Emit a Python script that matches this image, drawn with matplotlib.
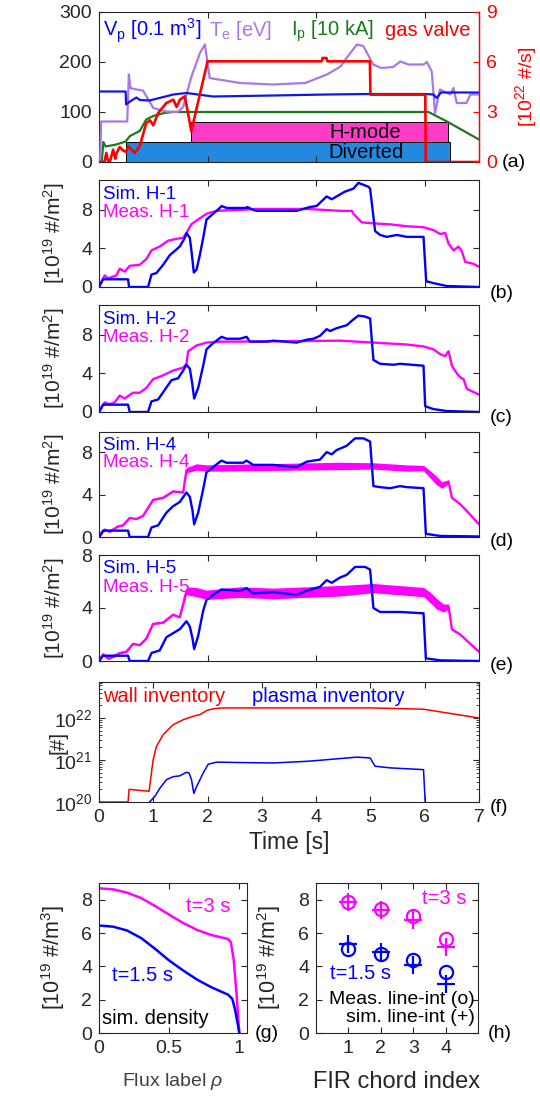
import numpy as np
import matplotlib
matplotlib.use('Agg')
import matplotlib.pyplot as plt

plt.rcParams['font.family'] = ['Liberation Sans', 'DejaVu Sans']
plt.rcParams['mathtext.fontset'] = 'custom'
plt.rcParams['mathtext.rm'] = 'Liberation Sans'
plt.rcParams['mathtext.it'] = 'Liberation Sans:italic'
plt.rcParams['mathtext.bf'] = 'Liberation Sans:bold'
plt.rcParams['mathtext.default'] = 'regular'

# ---------------- data: panel (a) ----------------
vp_t = [0, 0.49, 0.50, 0.57, 0.69, 0.75, 0.93, 1.37, 1.61, 2.1, 3.2, 4.2, 5.0, 6.0, 6.16, 6.22, 6.30, 7.0]
vp_v = [141, 141, 115, 121, 129, 124, 123, 135, 138, 131, 133, 135, 136, 136, 135, 128, 139, 139]

te_t = [0, 0.02, 0.04, 0.52, 0.55, 0.58, 0.69, 0.81, 1.0, 1.24, 1.45, 1.55, 1.70, 1.86, 1.95, 2.04, 2.2, 2.6,
        3.2, 3.8, 4.2, 4.45, 4.56, 4.75, 4.87, 5.05, 5.2, 5.42, 5.55, 5.7, 5.98, 6.04, 6.13, 6.19, 6.28, 6.47,
        6.53, 6.59, 6.77, 6.84, 7.0]
te_v = [0, 0, 81, 81, 175, 148, 145, 143, 108, 101, 100, 110, 170, 218, 235, 168, 165, 158,
        155, 158, 175, 191, 208, 235, 232, 195, 188, 190, 201, 195, 195, 200, 181, 98, 145, 135,
        148, 118, 118, 135, 135]

ip_t = [0, 0.05, 0.08, 0.12, 0.32, 0.49, 0.57, 0.75, 0.87, 1.0, 1.2, 1.37, 6.07, 6.41, 7.0]
ip_v = [0, 0, 40, 31, 35, 41, 52, 62, 85, 92, 98, 100, 100, 81, 45]

gas_t = [0, 0.10, 0.135, 0.17, 0.20, 0.26, 0.30, 0.32, 0.38, 0.44, 0.50, 0.54, 0.66, 0.75, 0.87, 0.94,
         1.0, 1.09, 1.24, 1.37, 1.43, 1.49, 1.58, 1.64, 1.70, 2.0, 4.10, 4.12, 4.19, 4.21, 4.99, 5.0,
         6.01, 6.02, 7.0]
gas_v = [0, 0, 0.54, 0.0, 0.0, 0.74, 0.2, 0.5, 0.9, 0.7, 0.6, 0.94, 0.54, 0.94, 2.34, 2.5,
         2.2, 2.94, 3.54, 3.74, 3.3, 3.74, 3.94, 2.94, 1.84, 6.04, 6.04, 6.24, 6.24, 6.04, 6.04, 4.04,
         4.04, 0, 0]

diverted_span = [0.49, 6.46]
diverted_level = [0, 40]
hmode_span = [1.70, 6.42]
hmode_level = [40, 80]

# ---------------- data: panels (b)-(e) ----------------
sim_b_t = [0, 0.074, 0.535, 0.554, 0.904, 0.966, 1.058, 1.181, 1.304, 1.427, 1.488, 1.581, 1.611, 1.673,
           1.704, 1.747, 1.796, 1.857, 1.919, 1.980, 2.042, 2.226, 2.257, 2.349, 2.718, 2.731, 2.841,
           2.903, 3.641, 3.825, 3.887, 4.010, 4.194, 4.287, 4.440, 4.533, 4.686, 4.779, 4.871, 4.963,
           4.994, 5.086, 5.178, 5.301, 5.486, 5.670, 5.978, 6.027, 6.162, 6.408, 7.0]
sim_b_v = [0, 0.8, 0.8, 0, 0, 1.28, 1.45, 2.3, 3.3, 3.9, 4.2, 5.1, 5.6, 5.1,
           3.7, 1.5, 1.8, 3.3, 5.1, 7.0, 7.3, 8.2, 8.4, 8.2, 8.2, 8.3, 8.0,
           7.9, 7.9, 8.2, 8.3, 8.4, 9.4, 9.1, 9.6, 9.9, 10.2, 10.8, 10.6, 10.4,
           10.2, 5.8, 5.4, 5.2, 5.4, 5.2, 5.2, 0.6, 0.4, 0.1, 0.0]
meas_b_t = [0, 0.105, 0.166, 0.32, 0.381, 0.474, 0.566, 0.75, 0.873, 0.966, 1.119, 1.273, 1.427, 1.55,
            1.611, 1.70, 1.827, 1.98, 2.165, 2.595, 2.9, 3.825, 4.44, 4.656, 4.686, 4.84, 5.055, 5.363,
            5.67, 5.978, 6.162, 6.285, 6.378, 6.439, 6.531, 6.624, 6.685, 6.747, 6.9, 7.0]
meas_b_v = [0, 1.2, 0.9, 1.2, 1.9, 1.6, 2.2, 2.3, 2.9, 3.8, 4.2, 4.8, 5.0, 5.1,
            5.6, 6.5, 7.0, 7.6, 7.9, 8.0, 8.1, 8.1, 7.9, 7.9, 7.6, 6.7, 6.6, 6.5,
            6.3, 6.2, 5.9, 5.5, 5.6, 4.5, 3.8, 4.2, 3.7, 2.6, 2.4, 2.1]

sim_c_t = [0, 0.074, 0.535, 0.566, 0.904, 0.966, 1.089, 1.212, 1.335, 1.458, 1.55, 1.611, 1.673, 1.716,
           1.753, 1.827, 1.919, 1.98, 2.073, 2.257, 2.349, 2.595, 2.718, 2.78, 3.087, 3.21, 3.641, 3.825,
           3.948, 4.071, 4.194, 4.256, 4.379, 4.563, 4.686, 4.779, 4.902, 4.994, 5.055, 5.178, 5.424,
           5.547, 5.978, 6.009, 6.162, 6.408, 7.0]
sim_c_v = [0, 0.76, 0.76, 0, 0, 1.1, 1.3, 2.3, 3.3, 3.5, 4.3, 4.9, 4.5, 3.0,
           1.4, 2.5, 4.8, 6.5, 7.0, 7.8, 7.6, 7.6, 7.8, 7.3, 7.3, 7.4, 7.2, 7.5,
           7.6, 7.9, 8.6, 8.4, 8.7, 9.0, 9.6, 10.0, 9.9, 9.7, 5.4, 5.0, 4.9,
           5.0, 4.8, 0.6, 0.3, 0.1, 0]
meas_c_t = [0, 0.105, 0.197, 0.289, 0.381, 0.474, 0.627, 0.75, 0.873, 0.996, 1.181, 1.365, 1.55, 1.611,
            1.642, 1.796, 1.98, 2.226, 2.595, 4.44, 5.055, 5.67, 5.978, 6.162, 6.285, 6.378, 6.439,
            6.501, 6.593, 6.654, 6.716, 6.777, 7.0]
meas_c_v = [0, 1.0, 0.8, 1.0, 1.7, 1.4, 2.0, 2.0, 2.5, 3.4, 3.8, 4.3, 4.6, 5.0,
            6.3, 6.9, 7.2, 7.3, 7.3, 7.4, 7.2, 7.0, 6.8, 6.5, 6.0, 5.8, 6.3,
            4.8, 4.0, 3.6, 3.4, 2.4, 1.8]

sim_d_t = [0, 0.074, 0.535, 0.566, 0.904, 0.966, 1.089, 1.242, 1.365, 1.488, 1.611, 1.673, 1.722, 1.753,
           1.827, 1.919, 1.98, 2.103, 2.257, 2.349, 2.657, 2.718, 2.841, 3.21, 3.641, 3.825, 4.071, 4.194,
           4.287, 4.379, 4.563, 4.717, 4.871, 4.994, 5.055, 5.178, 5.363, 5.547, 5.67, 5.978, 6.021,
           6.285, 7.0]
sim_d_v = [0, 0.6, 0.6, 0, 0, 0.9, 1.1, 2.3, 2.9, 3.3, 4.2, 3.8, 2.5, 1.2,
           2.3, 4.5, 6.1, 6.6, 7.2, 7.0, 7.0, 7.2, 6.8, 6.8, 6.6, 7.1, 7.3, 8.0,
           7.8, 8.2, 8.6, 9.3, 9.3, 9.0, 4.8, 4.7, 4.6, 4.8, 4.7, 4.6, 0.3,
           0.1, 0.05]
meas_d_t = [0, 0.105, 0.197, 0.351, 0.443, 0.566, 0.689, 0.812, 0.996, 1.181, 1.365, 1.55, 1.611, 1.796,
            1.98, 4.44, 5.055, 5.67, 5.978, 6.101, 6.224, 6.316, 6.439, 6.501, 6.654, 6.839, 7.0]
meas_d_v = [0, 0.7, 0.5, 1.0, 1.1, 1.8, 1.7, 2.0, 3.5, 3.7, 4.3, 4.2, 6.3, 6.6,
            6.5, 6.7, 6.7, 6.5, 6.5, 5.9, 5.3, 4.9, 5.2, 3.7, 3.1, 2.1, 1.2]
meas_d_spread = [0, 0.05, 0.05, 0.05, 0.05, 0.05, 0.05, 0.05, 0.05, 0.05, 0.05, 0.05, 0.25, 0.3,
                 0.3, 0.35, 0.3, 0.3, 0.25, 0.35, 0.4, 0.3, 0.2, 0.1, 0.05, 0.05, 0.05]

sim_e_t = [0, 0.074, 0.535, 0.566, 0.904, 0.966, 1.119, 1.242, 1.365, 1.488, 1.611, 1.673, 1.722, 1.753,
           1.827, 1.919, 1.98, 2.103, 2.257, 2.595, 2.718, 2.841, 3.21, 3.641, 3.825, 4.071, 4.194, 4.287,
           4.44, 4.563, 4.717, 4.902, 4.994, 5.055, 5.178, 5.547, 5.978, 6.021, 6.285, 7.0]
sim_e_v = [0, 0.4, 0.4, 0, 0, 0.6, 0.8, 1.8, 2.1, 2.4, 3.0, 2.6, 1.7, 0.9,
           1.9, 3.8, 4.6, 5.0, 5.4, 5.3, 5.5, 5.1, 5.2, 5.0, 5.3, 5.6, 6.1, 5.9,
           6.3, 6.5, 7.1, 7.1, 6.9, 4.0, 3.7, 3.7, 3.6, 0.2, 0.05, 0]
meas_e_t = [0, 0.074, 0.166, 0.289, 0.381, 0.504, 0.627, 0.75, 0.873, 0.996, 1.181, 1.365, 1.488, 1.611,
            1.796, 1.98, 2.595, 3.21, 3.825, 4.44, 5.055, 5.67, 5.978, 6.101, 6.224, 6.347, 6.439, 6.501,
            6.654, 6.839, 7.0]
meas_e_v = [0, 0.5, 0.2, 0.4, 0.6, 0.7, 1.3, 1.2, 1.7, 2.8, 2.9, 3.5, 3.3, 5.3,
            5.2, 5.0, 5.2, 5.1, 5.2, 5.3, 5.5, 5.3, 5.2, 4.8, 4.3, 4.0, 4.1, 2.4,
            2.0, 1.3, 0.7]
meas_e_spread = [0, 0.1, 0.1, 0.1, 0.05, 0.05, 0.05, 0.05, 0.05, 0.05, 0.05, 0.05, 0.05, 0.3,
                 0.35, 0.35, 0.4, 0.4, 0.4, 0.4, 0.35, 0.35, 0.35, 0.4, 0.4, 0.3, 0.2, 0.1,
                 0.05, 0.05, 0.05]

chord_names = ['H-1', 'H-2', 'H-4', 'H-5']

# ---------------- data: panel (f) ----------------
wall_t = [0, 0.535, 0.554, 0.923, 0.996, 1.058, 1.181, 1.365, 1.55, 1.735, 1.857, 1.98, 2.103, 2.288,
          4.994, 5.978, 7.0]
wall_v = [1.0e20, 1.0e20, 2.0e20, 1.8e20, 1.0e21, 2.1e21, 4.0e21, 6.9e21, 9.1e21, 1.1e22, 1.2e22,
          1.5e22, 1.66e22, 1.74e22, 1.74e22, 1.62e22, 1.0e22]
plasma_t = [0.93, 1.027, 1.119, 1.242, 1.365, 1.488, 1.611, 1.661, 1.704, 1.747, 1.796, 1.919, 2.011,
            2.165, 2.595, 3.21, 3.825, 4.133, 4.748, 4.994, 5.086, 5.363, 5.978, 6.009, 6.05]
plasma_v = [1.0e20, 1.35e20, 2.1e20, 3.4e20, 4.0e20, 4.2e20, 5.1e20, 4.9e20, 3.4e20, 1.6e20, 2.3e20,
            4.9e20, 7.9e20, 8.9e20, 8.7e20, 8.5e20, 9.3e20, 1.0e21, 1.17e21, 1.12e21, 7.1e20, 6.5e20,
            5.9e20, 1.0e20, 1.0e19]

# ---------------- data: panel (g) ----------------
rho_3 = [0, 0.1, 0.2, 0.3, 0.4, 0.5, 0.6, 0.7, 0.8, 0.88, 0.92, 0.94, 0.96, 0.98, 1.0]
dens_3 = [8.68, 8.62, 8.42, 8.1, 7.62, 7.1, 6.6, 6.18, 5.88, 5.72, 5.64, 5.45, 4.4, 2.4, 0]
rho_15 = [0, 0.1, 0.2, 0.3, 0.4, 0.5, 0.6, 0.7, 0.8, 0.88, 0.92, 0.95, 0.97, 0.99, 1.0]
dens_15 = [6.45, 6.38, 6.15, 5.7, 5.05, 4.35, 3.75, 3.2, 2.75, 2.45, 2.3, 2.05, 1.4, 0.5, 0]

# ---------------- data: panel (h) ----------------
chord = [1, 2, 3, 4]
meas_li_3 = [7.86, 7.46, 7.0, 5.66]
sim_li_3 = [7.86, 7.4, 6.8, 5.16]
meas_li_15 = [5.06, 4.76, 4.4, 3.66]
sim_li_15 = [5.35, 4.86, 4.06, 2.96]

# ---------------- styles ----------------
BLUE = '#0000FF'
MAG = '#FF00FF'
TE_C = '#A978E6'
IP_C = '#1B7A1B'
VP_C = '#1414E6'
RED = '#FF0000'
DARK = '#262626'
W, H = 540.0, 1103.0
TICK = 14
ANN = 14.5

fig = plt.figure(figsize=(5.4, 11.03), dpi=100)


def add_ax(l, t, r, b):
    return fig.add_axes([l / W, 1 - b / H, (r - l) / W, (b - t) / H])


def style(ax, right=True):
    ax.tick_params(direction='in', top=True, right=right, length=4, width=0.8,
                   labelsize=TICK, pad=5, colors=DARK)
    for s in ax.spines.values():
        s.set_color(DARK)
        s.set_linewidth(0.8)


def plabel(txt, x, y):
    fig.text(x / W, 1 - y / H, txt, fontsize=TICK, ha='left', va='center', color='black')


# ---------------- panel (a) ----------------
axa = add_ax(99, 12, 479, 162)
style(axa, right=False)
axa.fill_between(diverted_span, diverted_level[0], diverted_level[1], color='#2389E0',
                 edgecolor='black', linewidth=0.7, zorder=1)
axa.fill_between(hmode_span, hmode_level[0], hmode_level[1], color='#FF3CC8',
                 edgecolor='black', linewidth=0.7, zorder=1)
axa.text(4.9, np.mean(hmode_level), 'H-mode', fontsize=ANN, ha='center', va='center', zorder=2)
axa.text(4.92, np.mean(diverted_level), 'Diverted', fontsize=ANN, ha='center', va='center', zorder=2)
axa.plot(ip_t, ip_v, color=IP_C, lw=1.6, zorder=3)
axa.plot(te_t, te_v, color=TE_C, lw=1.6, zorder=3)
axa.plot(vp_t, vp_v, color=VP_C, lw=1.6, zorder=4)
axa.set_xlim(0, 7)
axa.set_ylim(0, 300)
axa.set_yticks([0, 100, 200, 300])
axa.set_xticks([0, 2, 4, 6])
axa.set_xticklabels([])
axa.text(0.07, 262, 'V$_p$ [0.1 m$^3$]', color=BLUE, fontsize=ANN, va='center', ha='left')
axa.text(2.03, 262, 'T$_e$ [eV]', color=TE_C, fontsize=ANN, va='center', ha='left')
axa.text(3.53, 262, 'I$_p$ [10 kA]', color=IP_C, fontsize=ANN, va='center', ha='left')
axa.text(5.27, 262, 'gas valve', color=RED, fontsize=ANN, va='center', ha='left')

axa2 = axa.twinx()
axa2.plot(gas_t, gas_v, color=RED, lw=1.9)
axa2.set_ylim(0, 9)
axa2.set_yticks([0, 3, 6, 9])
axa2.tick_params(axis='y', direction='in', length=4, width=0.8, labelsize=TICK, pad=5,
                 colors=RED)
axa2.spines['right'].set_color(RED)
axa2.spines['right'].set_linewidth(1.0)
for s in ['left', 'top', 'bottom']:
    axa2.spines[s].set_visible(False)
axa2.set_ylabel('[10$^{22}$ #/s]', color=RED, fontsize=14, rotation=90)
axa2.yaxis.set_label_coords(1.09, 0.5)
plabel('(a)', 502, 163)

# ---------------- panels (b)-(e) ----------------
panel_rects = [(180, 287), (305, 412), (432, 537), (555, 661)]
ylims = [11.1, 11.1, 9.9, 8.0]
sims = [(sim_b_t, sim_b_v), (sim_c_t, sim_c_v), (sim_d_t, sim_d_v), (sim_e_t, sim_e_v)]
meass = [(meas_b_t, meas_b_v, None), (meas_c_t, meas_c_v, None),
         (meas_d_t, meas_d_v, meas_d_spread), (meas_e_t, meas_e_v, meas_e_spread)]
sim_lab_y = [9.55, 9.55, 8.65, 6.95]
meas_lab_y = [7.75, 7.7, 7.0, 5.55]
letters = ['(b)', '(c)', '(d)', '(e)']
letter_y = [293, 417, 542, 665]

for i in range(4):
    top, bot = panel_rects[i]
    ax = add_ax(99, top, 479, bot)
    style(ax)
    mt, mv, msp = meass[i]
    if msp is not None:
        mv_a = np.array(mv)
        sp_a = np.array(msp)
        ax.fill_between(mt, mv_a - sp_a, mv_a + sp_a, color=MAG, lw=0)
    ax.plot(mt, mv, color=MAG, lw=1.7)
    st, sv = sims[i]
    ax.plot(st, sv, color=BLUE, lw=1.7)
    ax.set_xlim(0, 7)
    ax.set_ylim(0, ylims[i])
    ax.set_yticks([0, 4, 8])
    ax.set_xticks([0, 2, 4, 6])
    ax.set_xticklabels([])
    ax.text(0.07, sim_lab_y[i], 'Sim. ' + chord_names[i], color=BLUE, fontsize=13.5,
            va='center', ha='left')
    ax.text(0.07, meas_lab_y[i], 'Meas. ' + chord_names[i], color=MAG, fontsize=13.5,
            va='center', ha='left')
    ax.set_ylabel('[10$^{19}$ #/m$^2$]', fontsize=15, color=DARK)
    ax.yaxis.set_label_coords(-0.084, 0.5)
    plabel(letters[i], 490, letter_y[i])

# ---------------- panel (f) ----------------
axf = add_ax(99, 682, 479, 802)
axf.set_yscale('log')
style(axf)
axf.plot(wall_t, wall_v, color=RED, lw=1.1)
axf.plot(plasma_t, plasma_v, color=BLUE, lw=1.1)
axf.set_xlim(0, 7)
axf.set_ylim(1e20, 7.2e22)
axf.set_yticks([1e20, 1e21, 1e22])
axf.set_xticks(range(8))
axf.tick_params(which='minor', direction='in', length=2, width=0.6, right=True, colors=DARK)
axf.text(0.07, 3.3e22, 'wall inventory', color=RED, fontsize=ANN, va='center', ha='left')
axf.text(2.81, 3.3e22, 'plasma inventory', color=BLUE, fontsize=ANN, va='center', ha='left')
axf.set_ylabel('[#]', fontsize=15, color=DARK)
axf.yaxis.set_label_coords(-0.082, 0.5)
axf.set_xlabel('Time [s]', fontsize=16.5, color=DARK, labelpad=4)
plabel('(f)', 490, 807)

# ---------------- panel (g) ----------------
axg = add_ax(99, 883, 247, 1033)
style(axg)
axg.plot(rho_3, dens_3, color=MAG, lw=1.8)
axg.plot(rho_15, dens_15, color=BLUE, lw=1.8)
axg.set_xlim(0, 1.055)
axg.set_ylim(0, 9)
axg.set_xticks([0, 0.5, 1])
axg.set_xticklabels(['0', '0.5', '1'])
axg.set_yticks([0, 2, 4, 6, 8])
axg.text(0.62, 7.6, 't=3 s', color=MAG, fontsize=ANN, va='center', ha='left')
axg.text(0.09, 3.45, 't=1.5 s', color=BLUE, fontsize=ANN, va='center', ha='left')
axg.text(0.02, 0.85, 'sim. density', color='black', fontsize=ANN, va='center', ha='left')
axg.set_ylabel('[10$^{19}$ #/m$^3$]', fontsize=15.5, color=DARK)
axg.yaxis.set_label_coords(-0.216, 0.5)
axg.set_xlabel(r'Flux label $\mathit{\rho}$', fontsize=14, color='#404040', labelpad=10)
plabel('(g)', 255, 1033)

# ---------------- panel (h) ----------------
axh = add_ax(316, 883, 478, 1033)
style(axh)
axh.plot(chord, meas_li_3, 'o', mfc='none', mec=MAG, ms=9.5, mew=1.6)
axh.plot(chord, sim_li_3, '+', color=MAG, ms=13, mew=1.6)
axh.plot(chord, meas_li_15, 'o', mfc='none', mec=BLUE, ms=9.5, mew=1.6)
axh.plot(chord, sim_li_15, '+', color=BLUE, ms=13, mew=1.6)
axh.set_xlim(0, 5)
axh.set_ylim(0, 9)
axh.set_xticks([1, 2, 3, 4])
axh.set_yticks([0, 2, 4, 6, 8])
axh.text(3.26, 8.06, 't=3 s', color=MAG, fontsize=ANN, va='center', ha='left')
axh.text(0.43, 3.56, 't=1.5 s', color=BLUE, fontsize=ANN, va='center', ha='left')
axh.text(4.9, 2.0, 'Meas. line-int (o)', color='black', fontsize=14, va='center', ha='right')
axh.text(4.9, 0.95, 'sim. line-int (+)', color='black', fontsize=14, va='center', ha='right')
axh.set_ylabel('[10$^{19}$ #/m$^2$]', fontsize=15.5, color=DARK)
axh.yaxis.set_label_coords(-0.204, 0.5)
axh.set_xlabel('FIR chord index', fontsize=17, color=DARK, labelpad=10)
plabel('(h)', 488, 1033)

fig.savefig('out.png', dpi=100)
